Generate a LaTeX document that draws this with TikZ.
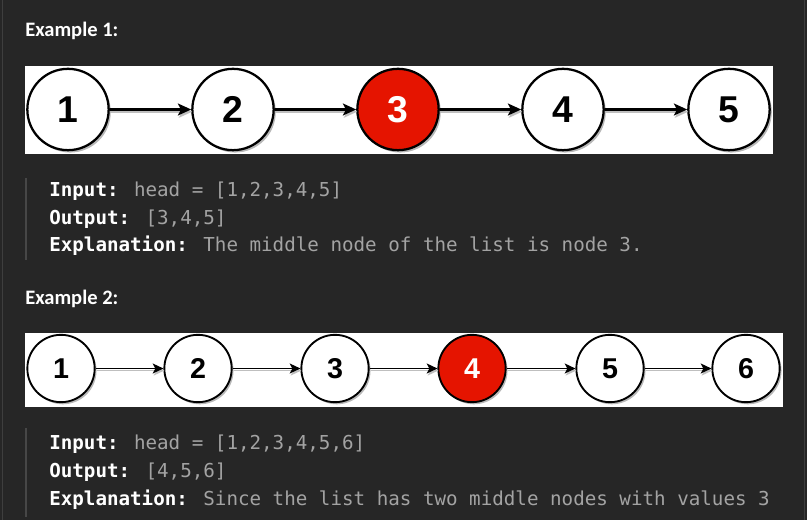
\documentclass[tikz,border=0pt]{standalone}
\usepackage{fontspec}
\usetikzlibrary{shadows,arrows.meta}
\newfontfamily\codefont{DejaVu Sans Mono}
\newfontfamily\headfont{Carlito}
\newfontfamily\numfont{Liberation Sans}
\definecolor{bg}{HTML}{262626}
\definecolor{codegray}{HTML}{A3A3A3}
\definecolor{barline}{HTML}{474747}
\definecolor{edgeline}{HTML}{3E3E3E}
\definecolor{listred}{HTML}{E51400}
\newcommand{\lbl}[1]{{\color{white}\bfseries #1}}
\begin{document}
\begin{tikzpicture}[x=0.75pt,y=-0.75pt,
  heading/.style={anchor=base west, inner sep=0, text=white, font=\headfont\bfseries\fontsize{15.4pt}{17pt}\selectfont},
  codeline/.style={anchor=base west, inner sep=0, text=codegray, font=\codefont\fontsize{14.4pt}{17pt}\selectfont},
  band/.style={fill=white},
  bignode/.style={circle, draw=black, line width=1.7pt, fill=white, minimum size=61pt, inner sep=0pt,
    font=\numfont\bfseries\fontsize{28pt}{30pt}\selectfont,
    drop shadow={shadow xshift=1.6pt, shadow yshift=-1.8pt, fill=black, opacity=0.28}},
  smallnode/.style={circle, draw=black, line width=1.4pt, fill=white, minimum size=50.5pt, inner sep=0pt,
    font=\numfont\bfseries\fontsize{21.5pt}{23pt}\selectfont,
    drop shadow={shadow xshift=1.4pt, shadow yshift=-1.6pt, fill=black, opacity=0.28}},
  hot/.style={fill=listred, text=white},
  bigarrow/.style={draw=black, line width=1.6pt, -{Stealth[length=10pt,width=9pt,inset=2.4pt]}},
  bigshadow/.style={draw=black!25, line width=1.6pt, -{Stealth[length=10pt,width=9pt,inset=2.4pt]}},
  smallarrow/.style={draw=black, line width=1.3pt, -{Stealth[length=8pt,width=7.5pt,inset=2pt]}},
  smallshadow/.style={draw=black!25, line width=1.3pt, -{Stealth[length=8pt,width=7.5pt,inset=2pt]}},
  bar/.style={draw=barline, line width=1.9pt},
  edge/.style={draw=edgeline, line width=0.9pt}
]
\useasboundingbox (0,0) rectangle (807,520);
\fill[bg] (0,0) rectangle (807,520);
\draw[edge] (2.5,0) -- (2.5,520);
\draw[edge] (804.5,0) -- (804.5,520);

% Example 1
\node[heading] (h1) at (25,37) {Example 1:};
\fill[band] (25,66) rectangle (773,154);
\node[bignode] (a1) at (68,109.5) {1};
\node[bignode] (a2) at (233,109.5) {2};
\node[bignode,hot] (a3) at (398,109.5) {3};
\node[bignode] (a4) at (563,109.5) {4};
\node[bignode] (a5) at (729,109.5) {5};
\foreach \p/\q in {a1/a2,a2/a3,a3/a4,a4/a5}{
  \draw[bigshadow] ([shift={(1,2.2)}]\p.east) -- ([shift={(1,2.2)}]\q.west);
  \draw[bigarrow] (\p.east) -- (\q.west);
}
\draw[bar] (26.2,178) -- (26.2,260);
\node[codeline] (i1) at (49,197) {\lbl{Input:} head = [1,2,3,4,5]};
\node[codeline] (o1) at (49,225) {\lbl{Output:} [3,4,5]};
\node[codeline] (e1) at (49,252) {\lbl{Explanation:} The middle node of the list is node 3.};

% Example 2
\node[heading] (h2) at (25,304.5) {Example 2:};
\fill[band] (25,333) rectangle (783,407);
\node[smallnode] (b1) at (61,368.5) {1};
\node[smallnode] (b2) at (198,368.5) {2};
\node[smallnode] (b3) at (335,368.5) {3};
\node[smallnode,hot] (b4) at (472,368.5) {4};
\node[smallnode] (b5) at (610,368.5) {5};
\node[smallnode] (b6) at (746,368.5) {6};
\foreach \p/\q in {b1/b2,b2/b3,b3/b4,b4/b5,b5/b6}{
  \draw[smallshadow] ([shift={(1,2)}]\p.east) -- ([shift={(1,2)}]\q.west);
  \draw[smallarrow] (\p.east) -- (\q.west);
}
\draw[bar] (26.2,428) -- (26.2,517);
\node[codeline] (i2) at (49,449) {\lbl{Input:} head = [1,2,3,4,5,6]};
\node[codeline] (o2) at (49,477) {\lbl{Output:} [4,5,6]};
\node[codeline] (e2) at (49,505) {\lbl{Explanation:} Since the list has two middle nodes with values 3};
\end{tikzpicture}
\end{document}
